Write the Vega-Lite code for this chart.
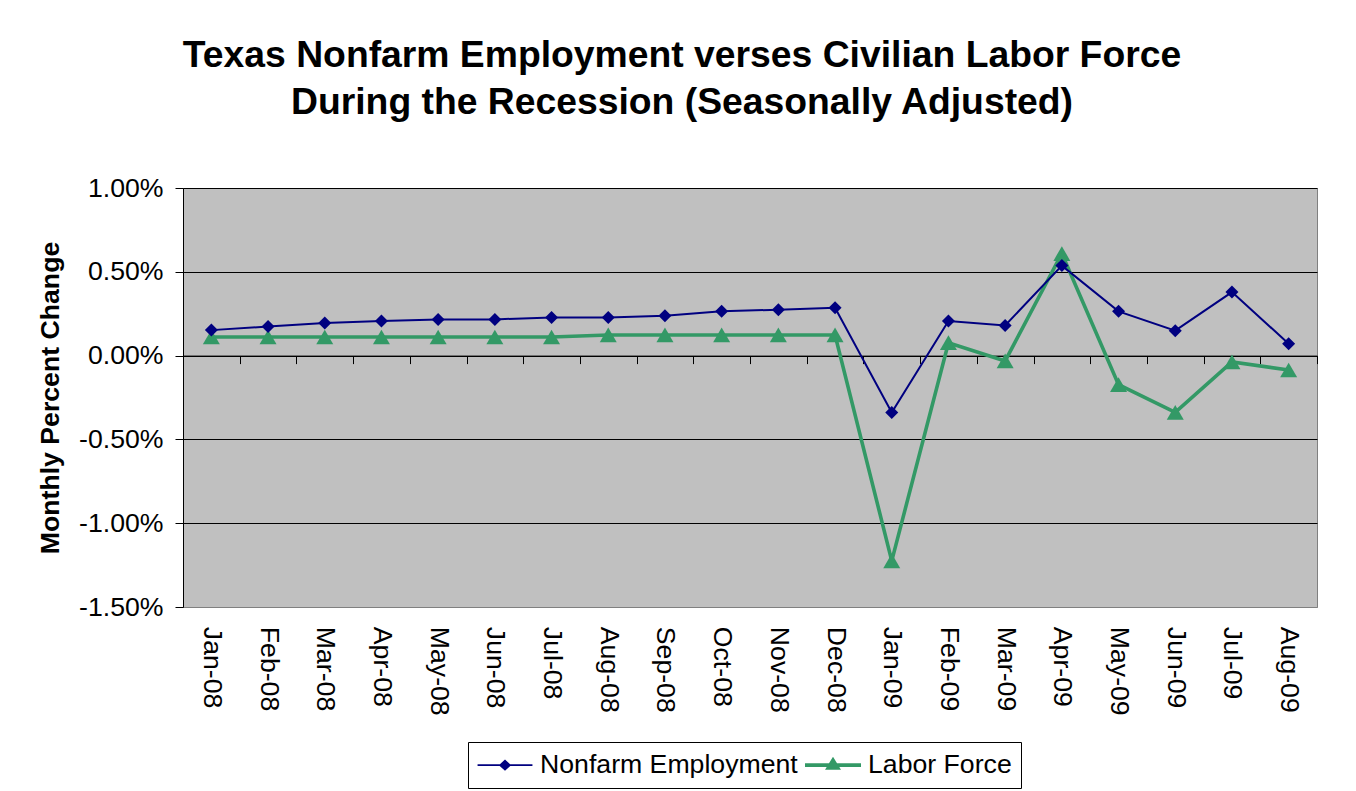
{
  "$schema": "https://vega.github.io/schema/vega-lite/v6.json",
  "width": 1134,
  "height": 419,
  "autosize": {"type": "none"},
  "padding": {"left": 183, "top": 188, "right": 39, "bottom": 184},
  "background": "white",
  "config": {
    "locale": {"number": {"decimal": ".", "thousands": ",", "grouping": [3], "currency": ["$", ""], "minus": "-"}},
    "view": {"fill": "#C0C0C0", "stroke": "#808080", "strokeWidth": 1},
    "font": "Liberation Sans",
    "axis": {
      "labelFont": "Liberation Sans",
      "labelFontSize": 26.67,
      "labelColor": "black",
      "tickColor": "black",
      "domainColor": "black",
      "titleFont": "Liberation Sans",
      "titleColor": "black"
    }
  },
  "title": {
    "text": ["Texas Nonfarm Employment verses Civilian Labor Force", "During the Recession (Seasonally Adjusted)"],
    "font": "Liberation Sans",
    "fontSize": 37.3,
    "fontWeight": "bold",
    "color": "black",
    "anchor": "middle",
    "frame": "group",
    "dx": -68,
    "offset": 53,
    "lineHeight": 46.7
  },
  "data": {
    "values": [
      {"month": "Jan-08", "series": "Labor Force", "value": 0.00111},
      {"month": "Feb-08", "series": "Labor Force", "value": 0.00111},
      {"month": "Mar-08", "series": "Labor Force", "value": 0.00111},
      {"month": "Apr-08", "series": "Labor Force", "value": 0.00111},
      {"month": "May-08", "series": "Labor Force", "value": 0.00111},
      {"month": "Jun-08", "series": "Labor Force", "value": 0.00111},
      {"month": "Jul-08", "series": "Labor Force", "value": 0.00111},
      {"month": "Aug-08", "series": "Labor Force", "value": 0.00123},
      {"month": "Sep-08", "series": "Labor Force", "value": 0.00123},
      {"month": "Oct-08", "series": "Labor Force", "value": 0.00123},
      {"month": "Nov-08", "series": "Labor Force", "value": 0.00123},
      {"month": "Dec-08", "series": "Labor Force", "value": 0.00123},
      {"month": "Jan-09", "series": "Labor Force", "value": -0.01225},
      {"month": "Feb-09", "series": "Labor Force", "value": 0.00077},
      {"month": "Mar-09", "series": "Labor Force", "value": -0.00032},
      {"month": "Apr-09", "series": "Labor Force", "value": 0.00609},
      {"month": "May-09", "series": "Labor Force", "value": -0.00173},
      {"month": "Jun-09", "series": "Labor Force", "value": -0.00339},
      {"month": "Jul-09", "series": "Labor Force", "value": -0.00038},
      {"month": "Aug-09", "series": "Labor Force", "value": -0.00086},
      {"month": "Jan-08", "series": "Nonfarm Employment", "value": 0.00152},
      {"month": "Feb-08", "series": "Nonfarm Employment", "value": 0.00173},
      {"month": "Mar-08", "series": "Nonfarm Employment", "value": 0.00194},
      {"month": "Apr-08", "series": "Nonfarm Employment", "value": 0.00206},
      {"month": "May-08", "series": "Nonfarm Employment", "value": 0.00216},
      {"month": "Jun-08", "series": "Nonfarm Employment", "value": 0.00216},
      {"month": "Jul-08", "series": "Nonfarm Employment", "value": 0.00228},
      {"month": "Aug-08", "series": "Nonfarm Employment", "value": 0.00228},
      {"month": "Sep-08", "series": "Nonfarm Employment", "value": 0.00238},
      {"month": "Oct-08", "series": "Nonfarm Employment", "value": 0.00264},
      {"month": "Nov-08", "series": "Nonfarm Employment", "value": 0.00274},
      {"month": "Dec-08", "series": "Nonfarm Employment", "value": 0.00286},
      {"month": "Jan-09", "series": "Nonfarm Employment", "value": -0.00339},
      {"month": "Feb-09", "series": "Nonfarm Employment", "value": 0.00206},
      {"month": "Mar-09", "series": "Nonfarm Employment", "value": 0.00180},
      {"month": "Apr-09", "series": "Nonfarm Employment", "value": 0.00537},
      {"month": "May-09", "series": "Nonfarm Employment", "value": 0.00264},
      {"month": "Jun-09", "series": "Nonfarm Employment", "value": 0.00149},
      {"month": "Jul-09", "series": "Nonfarm Employment", "value": 0.00379},
      {"month": "Aug-09", "series": "Nonfarm Employment", "value": 0.00071}
    ]
  },
  "encoding": {
    "x": {
      "field": "month",
      "type": "nominal",
      "sort": null,
      "scale": {
        "type": "band",
        "paddingInner": 0,
        "paddingOuter": 0,
        "domain": ["Jan-08", "Feb-08", "Mar-08", "Apr-08", "May-08", "Jun-08", "Jul-08", "Aug-08", "Sep-08", "Oct-08", "Nov-08", "Dec-08", "Jan-09", "Feb-09", "Mar-09", "Apr-09", "May-09", "Jun-09", "Jul-09", "Aug-09"]
      },
      "axis": {
        "title": null,
        "orient": "bottom",
        "offset": -251.4,
        "grid": false,
        "domain": true,
        "ticks": true,
        "tickBand": "extent",
        "tickSize": 8,
        "labelAngle": 90,
        "labelPadding": 262.7,
        "labelOverlap": false
      }
    },
    "y": {
      "field": "value",
      "type": "quantitative",
      "scale": {"domain": [-0.015, 0.01], "nice": false, "zero": false},
      "axis": {
        "title": "Monthly Percent Change",
        "titleFontSize": 26.67,
        "titleFontWeight": "bold",
        "titlePadding": 14,
        "values": [-0.015, -0.01, -0.005, 0, 0.005, 0.01],
        "format": ".2%",
        "grid": true,
        "gridColor": {"condition": {"test": "datum.value === -0.015", "value": "#808080"}, "value": "black"},
        "gridWidth": 1,
        "gridOpacity": 1,
        "tickSize": 8,
        "labelPadding": 12
      }
    },
    "color": {
      "field": "series",
      "type": "nominal",
      "scale": {"domain": ["Nonfarm Employment", "Labor Force"], "range": ["#000080", "#339966"]},
      "legend": {
        "title": null,
        "orient": "none",
        "legendX": 285,
        "legendY": 554,
        "direction": "horizontal",
        "strokeColor": "black",
        "padding": 9,
        "symbolSize": 784,
        "symbolStrokeWidth": 0,
        "symbolOffset": 14,
        "labelOffset": 21,
        "labelLimit": 0,
        "columnPadding": 7,
        "labelFont": "Liberation Sans",
        "labelFontSize": 26.67,
        "labelColor": "black",
        "encode": {
          "symbols": {
            "update": {
              "shape": {"signal": "datum.value === 'Labor Force' ? 'M-2,-0.14H2V0.14H-2Z M-0.57,0.32L0,-0.6L0.57,0.32Z' : 'M-1.96,-0.06H1.96V0.06H-1.96Z M0,-0.4L0.44,0L0,0.4L-0.44,0Z'"},
              "fill": {"signal": "datum.value === 'Labor Force' ? '#339966' : '#000080'"},
              "stroke": {"value": "transparent"},
              "strokeWidth": {"value": 0},
              "opacity": {"value": 1},
              "fillOpacity": {"value": 1}
            }
          }
        }
      }
    }
  },
  "layer": [
    {
      "mark": {"type": "line"},
      "encoding": {
        "strokeWidth": {"condition": {"test": "datum.series === 'Labor Force'", "value": 3.6}, "value": 2}
      }
    },
    {
      "mark": {"type": "point", "filled": true, "opacity": 1},
      "encoding": {
        "shape": {"condition": {"test": "datum.series === 'Labor Force'", "value": "triangle-up"}, "value": "diamond"},
        "size": {"condition": {"test": "datum.series === 'Labor Force'", "value": 289}, "value": 169}
      }
    }
  ]
}
